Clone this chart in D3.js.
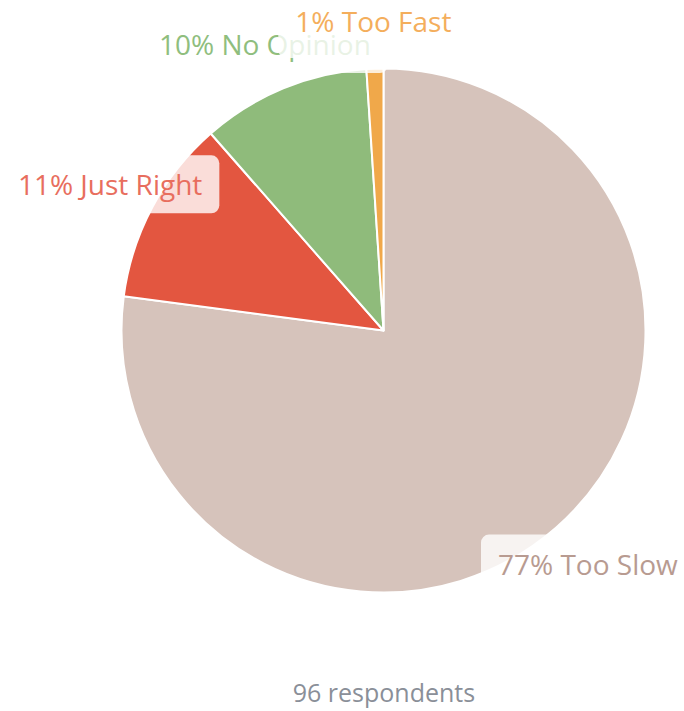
<!DOCTYPE html>
<html>
<head>
<meta charset="utf-8">
<script src="https://cdn.jsdelivr.net/npm/d3@7"></script>
<style>
  html, body { margin: 0; padding: 0; background: #ffffff; }
  svg { display: block; }
  text { font-family: "Open Sans", "Noto Sans", sans-serif; }
</style>
</head>
<body>
<svg id="chart" width="684" height="711"></svg>
<script>
// Survey answers, in clockwise order from 12 o'clock
const categories = ["Too Slow", "Just Right", "No Opinion", "Too Fast"];
const counts = [74, 11, 10, 1];
const sliceColors = ["#d6c3bb", "#e35640", "#8fbb7b", "#f0a84a"];
const labelColors = ["#b89b91", "#e86e5e", "#8fbe7e", "#f4ae5c"];
const respondents = 96;

const W = 684, H = 711;
const cx = 383.5, cy = 330.5, R = 262;
const labelR = 310;
const fontSize = 28;
const padX = 17, halfH = 29;

const svg = d3.select("#chart");
const total = d3.sum(counts);
const rows = categories.map((c, i) => ({ name: c, value: counts[i], fill: sliceColors[i], ink: labelColors[i] }));

const pie = d3.pie().value(d => d.value).sort(null);
const arcs = pie(rows);
const arc = d3.arc().innerRadius(0).outerRadius(R);
const labelArc = d3.arc().innerRadius(labelR).outerRadius(labelR);

const g = svg.append("g").attr("transform", `translate(${cx},${cy})`);

g.selectAll("path.slice")
  .data(arcs)
  .join("path")
  .attr("class", "slice")
  .attr("d", arc)
  .attr("fill", d => d.data.fill)
  .attr("stroke", "#ffffff")
  .attr("stroke-width", 2)
  .attr("stroke-linejoin", "round");

// Labels: a translucent rounded box behind each percentage + name
const fmt = d => Math.round(d.value / total * 100) + "% " + d.data.name;

const labels = g.selectAll("g.label")
  .data(arcs)
  .join("g")
  .attr("class", "label");

labels.each(function(d) {
  const grp = d3.select(this);
  const [lx, ly] = labelArc.centroid(d);
  const rect = grp.append("rect");
  const txt = grp.append("text")
    .attr("x", lx)
    .attr("y", ly)
    .attr("text-anchor", "middle")
    .attr("dominant-baseline", "central")
    .attr("font-size", fontSize)
    .attr("fill", d.data.ink)
    .text(fmt(d));
  const bb = txt.node().getBBox();
  // keep the box inside the top of the canvas
  let y0 = ly - halfH;
  if (y0 + cy < 0) y0 = -cy;
  rect.attr("x", bb.x - padX)
    .attr("y", y0)
    .attr("width", bb.width + padX * 2)
    .attr("height", halfH * 2)
    .attr("rx", 8)
    .attr("fill", "#ffffff")
    .attr("fill-opacity", 0.8);
});

svg.append("text")
  .attr("x", 384)
  .attr("y", 702)
  .attr("text-anchor", "middle")
  .attr("font-size", 25)
  .attr("fill", "#8a8f98")
  .text(respondents + " respondents");
</script>
</body>
</html>
